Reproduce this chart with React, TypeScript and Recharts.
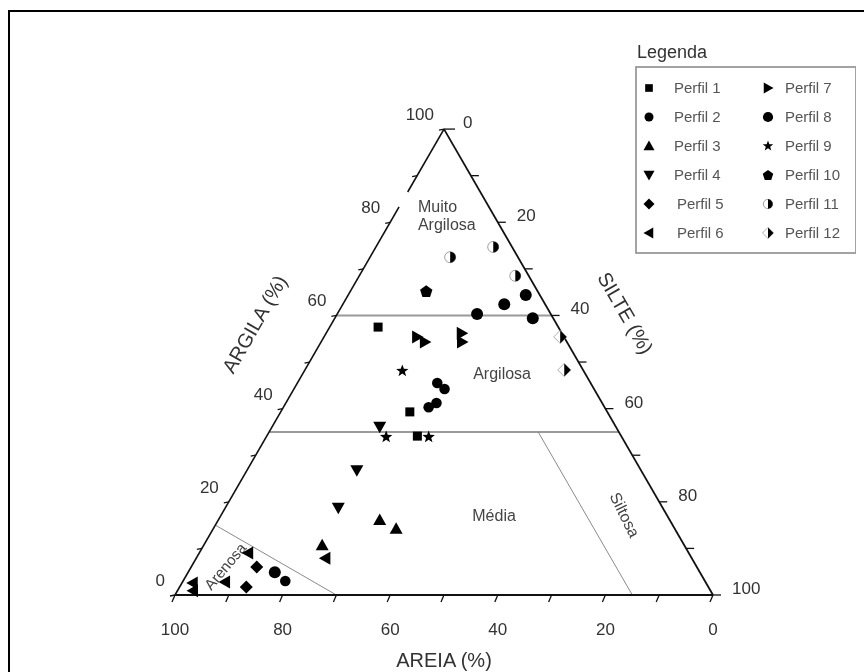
import React from 'react';
import { ScatterChart, Scatter, XAxis, YAxis, ReferenceLine, Legend } from 'recharts';

// ---------- DATA (argila %, silte %, areia %) ----------
type Amostra = [number, number, number];

const perfil1: Amostra[] = [[57.5, 9, 33.5], [39.3, 24, 36.7], [34.1, 28, 37.9]];
const perfil2: Amostra[] = [[45.5, 26, 28.5], [44.2, 28, 27.8], [41.2, 28, 30.8], [40.3, 27, 32.7], [3, 19, 78]];
const perfil3: Amostra[] = [[16.1, 30, 53.9], [14.2, 34, 51.8], [10.7, 22, 67.3]];
const perfil4: Amostra[] = [[36.1, 20, 43.9], [26.8, 20.4, 52.8], [18.7, 21, 60.3]];
const perfil5: Amostra[] = [[6, 12.2, 81.8], [1.7, 12.4, 85.9]];
const perfil6: Amostra[] = [[7.9, 24, 68.1], [9, 9.1, 81.9], [2.8, 7.9, 89.3], [2.6, 2, 95.4], [0.9, 2.9, 96.2]];
const perfil7: Amostra[] = [[55.4, 17.3, 27.3], [54.3, 19.3, 26.4], [56.2, 25.2, 18.6], [54.3, 26.2, 19.5]];
const perfil8: Amostra[] = [[60.3, 26, 13.7], [62.4, 30, 7.6], [64.4, 33, 2.6], [59.4, 36.8, 3.8], [4.9, 16.1, 79]];
const perfil9: Amostra[] = [[48.1, 18.2, 33.7], [33.9, 22.3, 43.8], [33.9, 30.2, 35.9]];
const perfil10: Amostra[] = [[65.2, 14.1, 20.7]];
const perfil11: Amostra[] = [[72.5, 14.9, 12.6], [74.7, 21.8, 3.5], [68.5, 29, 2.5]];
const perfil12: Amostra[] = [[55.4, 43.9, 0.7], [48.3, 48.2, 3.5]];

const nomesPerfis = ['Perfil 1', 'Perfil 2', 'Perfil 3', 'Perfil 4', 'Perfil 5', 'Perfil 6',
  'Perfil 7', 'Perfil 8', 'Perfil 9', 'Perfil 10', 'Perfil 11', 'Perfil 12'];
const dadosPerfis = [perfil1, perfil2, perfil3, perfil4, perfil5, perfil6,
  perfil7, perfil8, perfil9, perfil10, perfil11, perfil12];
const marcasPerfis = ['square', 'hex', 'triUp', 'triDown', 'diamond', 'triLeft',
  'triRight', 'circle', 'star', 'pentagon', 'halfCircle', 'halfDiamond'];

const argilaRotulos = [0, 20, 40, 60, 80, 100];
const silteRotulos = [0, 20, 40, 60, 80, 100];
const areiaRotulos = [100, 80, 60, 40, 20, 0];
const marcasEscala = [0, 10, 20, 30, 40, 50, 60, 70, 80, 90, 100];

const limitesArgila = [60, 35];
const limiteArenosa: [number, number][] = [[15, 0], [0, 30]]; // [argila, silte]
const limiteSiltosa: [number, number][] = [[35, 50], [0, 85]];

// ---------- helpers ----------
const SQ3 = Math.sqrt(3) / 2;
const pos = (argila: number, silte: number) => ({ x: silte + argila / 2, y: argila * SQ3 });
const FONT = '"Liberation Sans", Arial, Helvetica, sans-serif';

function Marca({ tipo, cx, cy, k = 1 }: { tipo: string; cx: number; cy: number; k?: number }) {
  const f = '#000';
  const p = (pts: number[][]) => pts.map(([a, b]) => `${cx + a * k},${cy + b * k}`).join(' ');
  switch (tipo) {
    case 'square':
      return <rect x={cx - 4.5 * k} y={cy - 4.5 * k} width={9 * k} height={9 * k} fill={f} />;
    case 'hex':
      return <circle cx={cx} cy={cy} r={5.3 * k} fill={f} />;
    case 'triUp':
      return <polygon points={p([[0, -6.5], [6.5, 5], [-6.5, 5]])} fill={f} />;
    case 'triDown':
      return <polygon points={p([[0, 6.5], [6.5, -5], [-6.5, -5]])} fill={f} />;
    case 'diamond':
      return <polygon points={p([[0, -6.5], [6.5, 0], [0, 6.5], [-6.5, 0]])} fill={f} />;
    case 'triLeft':
      return <polygon points={p([[-6.5, 0], [5, -6.5], [5, 6.5]])} fill={f} />;
    case 'triRight':
      return <polygon points={p([[6.5, 0], [-5, -6.5], [-5, 6.5]])} fill={f} />;
    case 'circle':
      return <circle cx={cx} cy={cy} r={6 * k} fill={f} />;
    case 'star': {
      const pts: number[][] = [];
      for (let i = 0; i < 10; i++) {
        const r = i % 2 === 0 ? 6.5 : 2.7;
        const a = -Math.PI / 2 + (i * Math.PI) / 5;
        pts.push([r * Math.cos(a), r * Math.sin(a)]);
      }
      return <polygon points={p(pts)} fill={f} />;
    }
    case 'pentagon': {
      const pts: number[][] = [];
      for (let i = 0; i < 5; i++) {
        const a = -Math.PI / 2 + (i * 2 * Math.PI) / 5;
        pts.push([6.5 * Math.cos(a), 6.5 * Math.sin(a) + 0.5]);
      }
      return <polygon points={p(pts)} fill={f} />;
    }
    case 'halfCircle': {
      const r = 5.5 * k;
      return (
        <g>
          <circle cx={cx} cy={cy} r={r} fill="#fff" stroke="#888" strokeWidth={0.8} />
          <path d={`M${cx},${cy - r} A${r},${r} 0 0 1 ${cx},${cy + r} Z`} fill={f} />
        </g>
      );
    }
    case 'halfDiamond':
      return (
        <g>
          <polygon points={p([[0, -6.5], [6.5, 0], [0, 6.5], [-6.5, 0]])} fill="#fff" stroke="#999" strokeWidth={0.8} />
          <polygon points={p([[0, -6.5], [6.5, 0], [0, 6.5]])} fill={f} />
        </g>
      );
    default:
      return null;
  }
}

const LegendaBox = () => {
  const rowY = (r: number) => 58 + r * 29;
  return (
    <svg width={240} height={230} style={{ overflow: 'visible' }}>
      <text x={8} y={28} fontFamily={FONT} fontSize={18} fill="#333">Legenda</text>
      <rect x={7} y={37} width={220} height={186} fill="#fff" stroke="#9a9a9a" strokeWidth={1.8} />
      {nomesPerfis.map((nome, i) => {
        const col = i < 6 ? 0 : 1;
        const row = i % 6;
        const mx = col === 0 ? 20 : 139;
        const tx = col === 0 ? (row >= 4 ? 48 : 45) : 156;
        return (
          <g key={nome}>
            <Marca tipo={marcasPerfis[i]} cx={mx} cy={rowY(row)} k={0.85} />
            <text x={tx} y={rowY(row) + 5} fontFamily={FONT} fontSize={15} fill="#555">{nome}</text>
          </g>
        );
      })}
    </svg>
  );
};

// ---------- derived annotation data ----------
const tickArgila = marcasEscala.map((v) => ({ ...pos(v, 0), v }));
const tickSilte = marcasEscala.map((v) => ({ ...pos(100 - v, v), v }));
const tickAreia = marcasEscala.map((v) => ({ ...pos(0, 100 - v), v }));
const rotArgila = argilaRotulos.map((v) => ({ ...pos(v, 0), v }));
const rotSilte = silteRotulos.map((v) => ({ ...pos(100 - v, v), v }));
const rotAreia = areiaRotulos.map((v) => ({ ...pos(0, 100 - v), v }));

const regioes = [
  { ...pos(81.5, 4.4), linhas: ['Muito', 'Argilosa'], rot: 0, anchor: 'start', fs: 16 },
  { ...pos(47.6, 37), linhas: ['Argilosa'], rot: 0, anchor: 'middle', fs: 16 },
  { ...pos(17, 50.8), linhas: ['Média'], rot: 0, anchor: 'middle', fs: 16 },
  { ...pos(17.2, 75), linhas: ['Siltosa'], rot: 64, anchor: 'middle', fs: 16 },
  { ...pos(6.2, 6.2), linhas: ['Arenosa'], rot: -50, anchor: 'middle', fs: 15 },
];

const titulos = [
  { ...pos(0, 50), texto: 'AREIA (%)', dx: 0, dy: 65, rot: 0 },
  { ...pos(50, 0), texto: 'ARGILA (%)', dx: -55, dy: -38, rot: -60 },
  { ...pos(50, 50), texto: 'SILTE (%)', dx: 47, dy: -49, rot: 60 },
];

const apex = pos(100, 0);
const origem = pos(0, 0);
const direita = pos(0, 100);

export default function App() {
  return (
    <div style={{ position: 'relative', width: 848, height: 664 }}>
      <div
        style={{
          position: 'fixed', left: 8, top: 10, width: 880, height: 700,
          border: '2px solid #000', pointerEvents: 'none',
        }}
      />
      <ScatterChart width={848} height={664} margin={{ top: 49, right: 143, bottom: 77, left: 167 }} style={{ overflow: 'visible' }}>
        <XAxis type="number" dataKey="x" domain={[0, 100]} hide />
        <YAxis type="number" dataKey="y" domain={[0, 100]} hide />

        {/* class boundaries */}
        {limitesArgila.map((a) => (
          <ReferenceLine key={'la' + a} segment={[pos(a, 0), pos(a, 100 - a)]} stroke="#9a9a9a" strokeWidth={2} ifOverflow="visible" />
        ))}
        <ReferenceLine segment={limiteArenosa.map(([a, s]) => pos(a, s))} stroke="#8a8a8a" strokeWidth={1} ifOverflow="visible" />
        <ReferenceLine segment={limiteSiltosa.map(([a, s]) => pos(a, s))} stroke="#8a8a8a" strokeWidth={1} ifOverflow="visible" />

        {/* triangle edges */}
        <ReferenceLine segment={[origem, direita]} stroke="#111" strokeWidth={2} ifOverflow="visible" />
        <ReferenceLine segment={[direita, apex]} stroke="#111" strokeWidth={1.8} ifOverflow="visible" />
        <ReferenceLine segment={[origem, pos(83.3, 0)]} stroke="#111" strokeWidth={1.6} ifOverflow="visible" />
        <ReferenceLine segment={[pos(86.5, 0), apex]} stroke="#111" strokeWidth={1.6} ifOverflow="visible" />

        {/* ticks */}
        <Scatter data={tickArgila} isAnimationActive={false} legendType="none"
          shape={(p: any) => <line x1={p.cx} y1={p.cy} x2={p.cx - 5} y2={p.cy + 1} stroke="#111" strokeWidth={1.3} />} />
        <Scatter data={tickSilte} isAnimationActive={false} legendType="none"
          shape={(p: any) => <line x1={p.cx} y1={p.cy} x2={p.cx + (p.payload.v === 0 ? 11 : 8)} y2={p.cy} stroke="#111" strokeWidth={1.3} />} />
        <Scatter data={tickAreia} isAnimationActive={false} legendType="none"
          shape={(p: any) => <line x1={p.cx} y1={p.cy} x2={p.cx - 3} y2={p.cy + 7} stroke="#111" strokeWidth={1.3} />} />

        {/* tick labels */}
        <Scatter data={rotArgila} isAnimationActive={false} legendType="none"
          shape={(p: any) => (
            <text x={p.cx - 10} y={p.cy - 9} textAnchor="end" fontFamily={FONT} fontSize={17} fill="#333">{p.payload.v}</text>
          )} />
        <Scatter data={rotSilte} isAnimationActive={false} legendType="none"
          shape={(p: any) => (
            <text x={p.cx + 19} y={p.cy - 1} textAnchor="start" fontFamily={FONT} fontSize={17} fill="#333">{p.payload.v}</text>
          )} />
        <Scatter data={rotAreia} isAnimationActive={false} legendType="none"
          shape={(p: any) => (
            <text x={p.cx} y={p.cy + 40} textAnchor="middle" fontFamily={FONT} fontSize={17} fill="#333">{p.payload.v}</text>
          )} />

        {/* axis titles */}
        <Scatter data={titulos} isAnimationActive={false} legendType="none"
          shape={(p: any) => (
            <text transform={`translate(${p.cx + p.payload.dx},${p.cy + p.payload.dy}) rotate(${p.payload.rot})`}
              textAnchor="middle" dominantBaseline="central" fontFamily={FONT} fontSize={20} fill="#333">
              {p.payload.texto}
            </text>
          )} />

        {/* region labels */}
        <Scatter data={regioes} isAnimationActive={false} legendType="none"
          shape={(p: any) => {
            const n = p.payload.linhas.length;
            return (
              <text transform={`translate(${p.cx},${p.cy}) rotate(${p.payload.rot})`}
                textAnchor={p.payload.anchor} fontFamily={FONT}
                fontSize={p.payload.fs} fill="#444">
                {p.payload.linhas.map((l: string, i: number) => (
                  <tspan key={l} x={0} y={(i - (n - 1) / 2) * 18 + 5.5}>{l}</tspan>
                ))}
              </text>
            );
          }} />

        {/* data series */}
        {dadosPerfis.map((dados, i) => (
          <Scatter
            key={nomesPerfis[i]}
            name={nomesPerfis[i]}
            data={dados.map(([argila, silte, areia]) => ({ ...pos(argila, silte), argila, silte, areia }))}
            isAnimationActive={false}
            shape={(p: any) => <Marca tipo={marcasPerfis[i]} cx={p.cx} cy={p.cy} />}
          />
        ))}

        <Legend
          layout="vertical"
          align="center"
          verticalAlign="middle"
          content={() => <LegendaBox />}
          wrapperStyle={{ position: 'absolute', left: 621, top: 22, width: 240, height: 230 }}
        />
      </ScatterChart>
    </div>
  );
}
